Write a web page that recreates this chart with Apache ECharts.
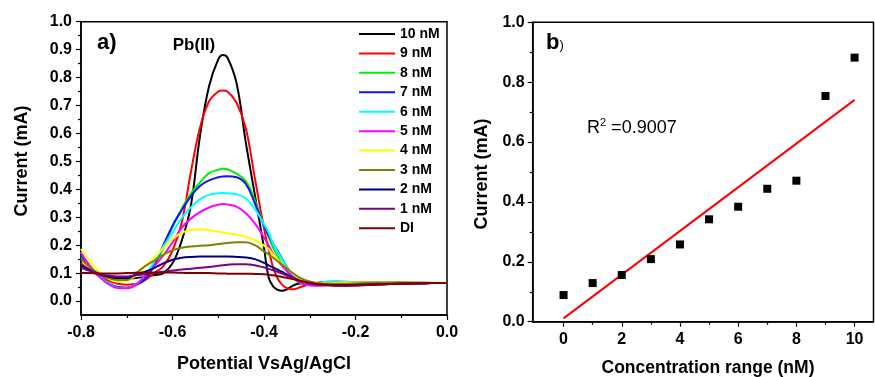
<!DOCTYPE html>
<html><head><meta charset="utf-8">
<script src="https://cdn.jsdelivr.net/npm/echarts@6/dist/echarts.min.js"></script>
<style>html,body{margin:0;padding:0;background:#fff}#c{width:875px;height:377px}</style>
</head><body><div id="c"></div>
<script>
// ---- Panel a) : DPV curves ----
const potential = [-0.8,-0.78,-0.76,-0.74,-0.72,-0.70,-0.68,-0.66,-0.64,-0.62,-0.60,-0.58,-0.56,-0.54,-0.52,-0.50,-0.49,-0.48,-0.46,-0.44,-0.42,-0.40,-0.39,-0.38,-0.37,-0.36,-0.35,-0.34,-0.33,-0.32,-0.30,-0.28,-0.26,-0.24,-0.22,-0.20,-0.15,-0.10,-0.05,0];
const i10nM = [0.13,0.11,0.095,0.086,0.081,0.08,0.082,0.087,0.093,0.1,0.135,0.215,0.34,0.59,0.77,0.865,0.881,0.872,0.78,0.57,0.38,0.19,0.085,0.052,0.04,0.037,0.042,0.052,0.06,0.063,0.064,0.062,0.06,0.059,0.058,0.058,0.06,0.062,0.064,0.065];
const i9nM = [0.135,0.11,0.09,0.073,0.062,0.058,0.062,0.075,0.1,0.125,0.18,0.28,0.46,0.62,0.715,0.75,0.754,0.75,0.71,0.62,0.44,0.26,0.186,0.12,0.08,0.058,0.046,0.042,0.044,0.05,0.06,0.066,0.069,0.07,0.069,0.068,0.066,0.065,0.065,0.065];
const i8nM = [0.16,0.12,0.09,0.065,0.05,0.048,0.058,0.08,0.125,0.19,0.265,0.33,0.385,0.424,0.458,0.47,0.474,0.472,0.456,0.43,0.36,0.27,0.23,0.19,0.16,0.13,0.108,0.088,0.074,0.064,0.058,0.062,0.066,0.066,0.064,0.062,0.062,0.063,0.064,0.065];
const i7nM = [0.165,0.12,0.088,0.063,0.05,0.048,0.057,0.078,0.13,0.2,0.27,0.325,0.375,0.412,0.432,0.443,0.446,0.447,0.443,0.42,0.35,0.27,0.235,0.205,0.178,0.15,0.122,0.098,0.078,0.066,0.06,0.065,0.068,0.068,0.066,0.064,0.062,0.063,0.064,0.065];
const i6nM = [0.175,0.125,0.09,0.062,0.048,0.047,0.06,0.093,0.14,0.195,0.245,0.297,0.335,0.365,0.38,0.386,0.387,0.386,0.382,0.368,0.33,0.275,0.245,0.205,0.175,0.148,0.122,0.1,0.082,0.068,0.06,0.064,0.07,0.07,0.068,0.066,0.063,0.063,0.064,0.065];
const i5nM = [0.172,0.125,0.088,0.06,0.047,0.046,0.058,0.09,0.125,0.163,0.21,0.262,0.295,0.318,0.335,0.345,0.347,0.346,0.338,0.315,0.278,0.228,0.2,0.168,0.145,0.125,0.107,0.092,0.078,0.066,0.056,0.055,0.057,0.058,0.058,0.058,0.06,0.062,0.064,0.065];
const i4nM = [0.186,0.14,0.105,0.08,0.069,0.072,0.093,0.125,0.155,0.19,0.222,0.244,0.254,0.257,0.253,0.249,0.246,0.243,0.238,0.23,0.218,0.198,0.186,0.165,0.148,0.132,0.118,0.103,0.09,0.08,0.068,0.064,0.064,0.065,0.066,0.066,0.066,0.066,0.065,0.065];
const i3nM = [0.15,0.12,0.097,0.082,0.075,0.075,0.1,0.125,0.145,0.165,0.182,0.191,0.195,0.198,0.2,0.204,0.206,0.208,0.21,0.21,0.2,0.178,0.167,0.155,0.143,0.13,0.117,0.104,0.092,0.082,0.07,0.064,0.062,0.062,0.062,0.063,0.066,0.067,0.066,0.065];
const i2nM = [0.128,0.11,0.096,0.087,0.083,0.083,0.095,0.105,0.118,0.135,0.148,0.155,0.158,0.159,0.159,0.159,0.159,0.159,0.158,0.156,0.15,0.137,0.128,0.12,0.112,0.104,0.095,0.086,0.078,0.072,0.064,0.06,0.058,0.057,0.057,0.058,0.06,0.062,0.064,0.065];
const i1nM = [0.12,0.107,0.097,0.091,0.088,0.088,0.092,0.096,0.1,0.105,0.109,0.113,0.116,0.119,0.122,0.126,0.128,0.13,0.132,0.132,0.128,0.12,0.115,0.11,0.104,0.098,0.091,0.085,0.078,0.072,0.063,0.058,0.056,0.055,0.055,0.056,0.059,0.062,0.064,0.065];
const iDI = [0.1,0.1,0.099,0.099,0.099,0.1,0.101,0.102,0.102,0.102,0.102,0.101,0.1,0.1,0.1,0.099,0.099,0.098,0.098,0.098,0.097,0.096,0.094,0.092,0.089,0.086,0.083,0.08,0.076,0.072,0.065,0.06,0.057,0.056,0.055,0.056,0.059,0.062,0.064,0.065];
const curveNames = ['10 nM','9 nM','8 nM','7 nM','6 nM','5 nM','4 nM','3 nM','2 nM','1 nM','DI'];
const curveValues = [i10nM,i9nM,i8nM,i7nM,i6nM,i5nM,i4nM,i3nM,i2nM,i1nM,iDI];
const curveColors = ['#000000','#ff0000','#00ee00','#1010ff','#00ffff','#ff00ff','#ffff00','#808000','#000080','#800080','#800000'];
const leftYLabels = [0,0.1,0.2,0.3,0.4,0.5,0.6,0.7,0.8,0.9,1.0];
const leftYMinor = [0.05,0.15,0.25,0.35,0.45,0.55,0.65,0.75,0.85,0.95];

// ---- Panel b) : calibration ----
const concentration = [0,1,2,3,4,5,6,7,8,9,10];
const peakCurrent = [0.089,0.129,0.156,0.209,0.258,0.342,0.384,0.444,0.471,0.754,0.882];
const fitX = [0,10];
const fitY = [0.011,0.741];
const rightXLabels = [0,2,4,6,8,10];
const rightXMinor = [1,3,5,7,9];

const FF = '"Liberation Sans", Arial, sans-serif';
const chart = echarts.init(document.getElementById('c'));

const axisLineS = {show:true, onZero:false, lineStyle:{color:'#000', width:1.5}};
const hiddenLine = {show:false, onZero:false};
const lblS = {color:'#000', fontSize:16, fontWeight:'bold', fontFamily:FF};

const series = curveNames.map((n,k)=>({
  name:n, type:'line', xAxisIndex:0, yAxisIndex:0,
  data: potential.map((x,i)=>[x, curveValues[k][i]]),
  showSymbol:false, smooth:0.4, lineStyle:{width:2, color:curveColors[k]},
  itemStyle:{color:curveColors[k]}, z: 2
}));
series.push({
  type:'scatter', xAxisIndex:2, yAxisIndex:2, symbol:'rect', symbolSize:8,
  itemStyle:{color:'#000', opacity:1}, data: concentration.map((x,i)=>[x, peakCurrent[i]]), z:3
});
series.push({
  type:'line', xAxisIndex:2, yAxisIndex:2, showSymbol:false,
  lineStyle:{color:'#ff0000', width:2}, data: fitX.map((x,i)=>[x, fitY[i]]), z:2
});

const option = {
  animation:false,
  backgroundColor:'#fff',
  grid:[
    {left:81, right:428, top:21.7, bottom:62, show:true, borderColor:'#000', borderWidth:1.5},
    {left:532.7, right:1.5, top:22.3, bottom:55.3, show:true, borderColor:'#000', borderWidth:1.5}
  ],
  xAxis:[
    {gridIndex:0, type:'value', min:-0.8, max:0, interval:0.2, position:'bottom',
     axisLine:axisLineS, axisTick:{show:true, inside:false, length:5, lineStyle:{color:'#000', width:1.2}},
     minorTick:{show:true, splitNumber:2, length:3, lineStyle:{color:'#000', width:1.2}},
     axisLabel:Object.assign({margin:10, formatter:v=>v.toFixed(1)}, lblS), splitLine:{show:false}},
    {gridIndex:1, type:'value', min:-1.06, max:10.65, position:'bottom',
     axisLine:hiddenLine, axisTick:{show:true, length:3, customValues:rightXMinor, lineStyle:{color:'#000', width:1.2}},
     axisLabel:{show:false}, splitLine:{show:false}},
    {gridIndex:1, type:'value', min:-1.06, max:10.65, position:'bottom',
     axisLine:axisLineS, axisTick:{show:true, length:5, customValues:rightXLabels, lineStyle:{color:'#000', width:1.2}},
     axisLabel:Object.assign({margin:10, customValues:rightXLabels}, lblS), splitLine:{show:false}}
  ],
  yAxis:[
    {gridIndex:0, type:'value', min:-0.05, max:1.0, position:'left',
     axisLine:axisLineS, axisTick:{show:true, length:5, customValues:leftYLabels, lineStyle:{color:'#000', width:1.2}},
     axisLabel:Object.assign({margin:9, customValues:leftYLabels, formatter:v=>v.toFixed(1)}, lblS), splitLine:{show:false}},
    {gridIndex:0, type:'value', min:-0.05, max:1.0, position:'left',
     axisLine:hiddenLine, axisTick:{show:true, length:3, customValues:leftYMinor, lineStyle:{color:'#000', width:1.2}},
     axisLabel:{show:false}, splitLine:{show:false}},
    {gridIndex:1, type:'value', min:0, max:1.0, interval:0.2, position:'left',
     axisLine:axisLineS, axisTick:{show:true, length:5, lineStyle:{color:'#000', width:1.2}},
     minorTick:{show:true, splitNumber:2, length:3, lineStyle:{color:'#000', width:1.2}},
     axisLabel:Object.assign({margin:8, formatter:v=>v.toFixed(1)}, lblS), splitLine:{show:false}}
  ],
  legend:{
    orient:'vertical', left:359, top:27, padding:0, itemWidth:36, itemHeight:2, itemGap:5.43,
    icon:'rect', data:curveNames, selectedMode:false,
    textStyle:{color:'#000', fontSize:14, fontWeight:'bold', fontFamily:FF, lineHeight:14}
  },
  graphic:[
    {type:'text', x:97, y:43, style:{text:'a)', font:'bold 22px '+FF, fill:'#000', textVerticalAlign:'middle'}},
    {type:'text', x:194, y:45, style:{text:'Pb(II)', font:'bold 17px '+FF, fill:'#000', textAlign:'center', textVerticalAlign:'middle'}},
    {type:'text', x:22, y:161, rotation:Math.PI/2, style:{text:'Current (mA)', font:'bold 18px '+FF, fill:'#000', textAlign:'center', textVerticalAlign:'middle'}},
    {type:'text', x:264, y:364, style:{text:'Potential VsAg/AgCl', font:'bold 18px '+FF, fill:'#000', textAlign:'center', textVerticalAlign:'middle'}},
    {type:'text', x:546, y:43, style:{text:'{b|b}{p|)}', fill:'#000', textVerticalAlign:'middle',
      rich:{b:{font:'bold 22px '+FF, fill:'#000'}, p:{font:'13px '+FF, fill:'#000', padding:[4,0,0,0]}}}},
    {type:'text', x:587, y:128, style:{text:'R{s|2} =0.9007', font:'18px '+FF, fill:'#000', textVerticalAlign:'middle',
      rich:{s:{font:'11px '+FF, fill:'#000', padding:[0,0,10,0]}}}},
    {type:'text', x:482, y:174, rotation:Math.PI/2, style:{text:'Current (mA)', font:'bold 18px '+FF, fill:'#000', textAlign:'center', textVerticalAlign:'middle'}},
    {type:'text', x:708, y:368, style:{text:'Concentration range (nM)', font:'bold 17.5px '+FF, fill:'#000', textAlign:'center', textVerticalAlign:'middle'}}
  ],
  series: series
};
chart.setOption(option);
</script></body></html>
